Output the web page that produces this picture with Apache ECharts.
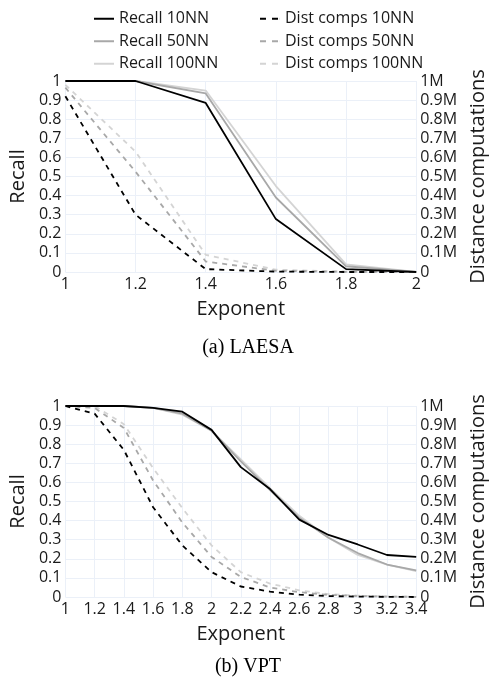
<!DOCTYPE html>
<html>
<head>
<meta charset="utf-8">
<script src="https://cdn.jsdelivr.net/npm/echarts@6/dist/echarts.min.js"></script>
<style>
html,body{margin:0;padding:0;background:#fff;}
#main{width:496px;height:681px;}
</style>
</head>
<body>
<div id="main"></div>
<script>
// ---- Data ----
const laesaX = [1, 1.2, 1.4, 1.6, 1.8, 2];
const laesaRecall10 = [1, 1, 0.885, 0.277, 0.015, 0];
const laesaRecall50 = [1, 1, 0.935, 0.39, 0.03, 0];
const laesaRecall100 = [1, 1, 0.95, 0.45, 0.04, 0];
const laesaDist10 = [920000, 300000, 15000, 2000, 0, 0];
const laesaDist50 = [965000, 525000, 55000, 6000, 1000, 0];
const laesaDist100 = [980000, 630000, 90000, 12000, 2000, 0];

const vptX = [1, 1.2, 1.4, 1.6, 1.8, 2, 2.2, 2.4, 2.6, 2.8, 3, 3.2, 3.4];
const vptRecall10 = [1, 1, 1, 0.99, 0.97, 0.875, 0.68, 0.565, 0.405, 0.325, 0.275, 0.22, 0.21];
const vptRecall50 = [1, 1, 1, 0.99, 0.96, 0.87, 0.71, 0.56, 0.415, 0.31, 0.23, 0.17, 0.14];
const vptRecall100 = [1, 1, 1, 0.99, 0.955, 0.87, 0.72, 0.57, 0.425, 0.31, 0.22, 0.17, 0.135];
const vptDist10 = [1000000, 960000, 770000, 470000, 270000, 130000, 55000, 28000, 12000, 5000, 2000, 1000, 0];
const vptDist50 = [1000000, 990000, 885000, 610000, 390000, 210000, 105000, 50000, 25000, 11000, 5000, 2000, 1000];
const vptDist100 = [1000000, 1000000, 905000, 675000, 465000, 270000, 130000, 70000, 35000, 15000, 7000, 3000, 1000];

const recallTicks = ['0','0.1','0.2','0.3','0.4','0.5','0.6','0.7','0.8','0.9','1'];
const distTicks = ['0','0.1M','0.2M','0.3M','0.4M','0.5M','0.6M','0.7M','0.8M','0.9M','1M'];

const recallNames = ['Recall 10NN', 'Recall 50NN', 'Recall 100NN'];
const distNames = ['Dist comps 10NN', 'Dist comps 50NN', 'Dist comps 100NN'];
const captions = ['(a) LAESA', '(b) VPT'];

// ---- Styles ----
const FONT = '"Open Sans", "Noto Sans", sans-serif';
const TXT = '#1a1a1a';
const GRID = '#EBF0F8';
const colors = ['#000000', '#a8a8a8', '#d4d4d4'];
const SOLID_ICON = 'path://M0,0h20v2h-20z';
const DASH_ICON = 'path://M0,0h6v2h-6z M12,0h6v2h-6z M19.9,0h0.1v2h-0.1z';

function zip(xs, ys) { return xs.map((x, i) => [x, ys[i]]); }

function xAxis(gi, max) {
  return {
    type: 'value', gridIndex: gi, min: 1, max: max, interval: 0.2,
    name: 'Exponent', nameLocation: 'middle', nameGap: 27,
    nameTextStyle: { fontFamily: FONT, fontSize: 20, color: TXT },
    axisLine: { show: false }, axisTick: { show: false },
    axisLabel: { fontFamily: FONT, fontSize: 16, color: TXT, margin: 4,
      formatter: v => String(Math.round(v * 10) / 10) },
    splitLine: { show: true, lineStyle: { color: GRID, width: 1 } }
  };
}
function yLeft(gi) {
  return {
    type: 'value', gridIndex: gi, min: 0, max: 1, interval: 0.1, position: 'left',
    name: 'Recall', nameLocation: 'middle', nameGap: 29, nameRotate: 90,
    nameTextStyle: { fontFamily: FONT, fontSize: 20, color: TXT },
    axisLine: { show: false }, axisTick: { show: false },
    axisLabel: { fontFamily: FONT, fontSize: 16, color: TXT, margin: 4,
      formatter: v => recallTicks[Math.round(v * 10)] },
    splitLine: { show: true, lineStyle: { color: GRID, width: 1 } }
  };
}
function yRight(gi) {
  return {
    type: 'value', gridIndex: gi, min: 0, max: 1000000, interval: 100000, position: 'right',
    name: 'Distance computations', nameLocation: 'middle', nameGap: 50, nameRotate: 90,
    nameTextStyle: { fontFamily: FONT, fontSize: 20, color: TXT },
    axisLine: { show: false }, axisTick: { show: false },
    axisLabel: { fontFamily: FONT, fontSize: 16, color: TXT, margin: 4,
      formatter: v => distTicks[Math.round(v / 100000)] },
    splitLine: { show: false }
  };
}
function lineSeries(name, gi, yi, xs, ys, color, dashed) {
  return {
    name: name, type: 'line', xAxisIndex: gi, yAxisIndex: yi,
    data: zip(xs, ys), symbol: 'none', showSymbol: false, silent: true,
    lineStyle: { color: color, width: 1.8, type: dashed ? [5, 5] : 'solid' },
    itemStyle: { color: color },
    z: dashed ? 2 : 3, animation: false
  };
}

const series = [];
const laesaR = [laesaRecall10, laesaRecall50, laesaRecall100];
const laesaD = [laesaDist10, laesaDist50, laesaDist100];
const vptR = [vptRecall10, vptRecall50, vptRecall100];
const vptD = [vptDist10, vptDist50, vptDist100];
for (let i = 2; i >= 0; i--) {
  series.push(lineSeries(distNames[i], 0, 1, laesaX, laesaD[i], colors[i], true));
  series.push(lineSeries(distNames[i], 1, 3, vptX, vptD[i], colors[i], true));
}
for (let i = 2; i >= 0; i--) {
  series.push(lineSeries(recallNames[i], 0, 0, laesaX, laesaR[i], colors[i], false));
  series.push(lineSeries(recallNames[i], 1, 2, vptX, vptR[i], colors[i], false));
}

const legendCommon = {
  orient: 'vertical', top: 3, itemWidth: 20, itemHeight: 2, itemGap: 1,
  selectedMode: false,
  textStyle: { fontFamily: FONT, fontSize: 16, color: TXT, lineHeight: 21.5 }
};

const option = {
  animation: false,
  backgroundColor: '#ffffff',
  legend: [
    Object.assign({}, legendCommon, { left: 89, icon: SOLID_ICON, data: recallNames.map(n => ({ name: n })) }),
    Object.assign({}, legendCommon, { left: 255, icon: DASH_ICON, data: distNames.map(n => ({ name: n })) })
  ],
  grid: [
    { left: 61, right: 71, top: 81, height: 191 },
    { left: 62, right: 65, top: 406, height: 191 }
  ],
  xAxis: [xAxis(0, 2), xAxis(1, 3.4)],
  yAxis: [yLeft(0), yRight(0), yLeft(1), yRight(1)],
  series: series,
  graphic: [
    { type: 'text', left: 'center', top: 338,
      style: { text: captions[0], font: '20px "Liberation Serif", "DejaVu Serif", serif', fill: '#000' } },
    { type: 'text', left: 'center', top: 657,
      style: { text: captions[1], font: '20px "Liberation Serif", "DejaVu Serif", serif', fill: '#000' } }
  ]
};

const chart = echarts.init(document.getElementById('main'), null, { renderer: 'canvas' });
chart.setOption(option);
</script>
</body>
</html>
